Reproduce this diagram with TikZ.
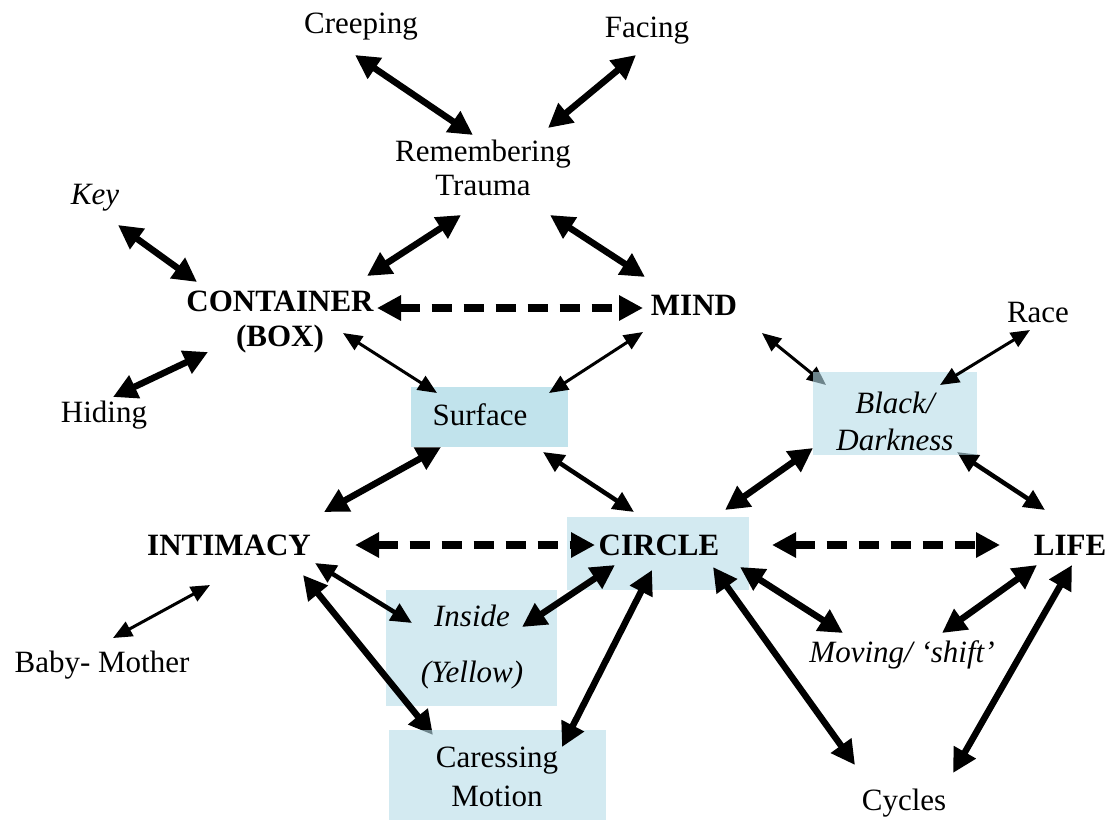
\documentclass[tikz,border=0pt]{standalone}
\usepackage{fontspec}
\setmainfont{Liberation Serif}
\usetikzlibrary{arrows.meta,calc}
\pgfdeclarelayer{under}
\pgfdeclarelayer{mid}
\pgfdeclarelayer{toppanel}
\pgfdeclarelayer{over}
\pgfsetlayers{under,main,mid,toppanel,over}
\definecolor{boxblue}{RGB}{182,220,232}
\definecolor{surfblue}{RGB}{152,208,223}
\begin{document}
\begin{tikzpicture}[x=1pt,y=-1pt,
  lbl/.style={font=\fontsize{31}{35}\selectfont, inner sep=0pt, align=center},
  bld/.style={lbl, font=\fontsize{31}{35}\selectfont\bfseries},
  itl/.style={lbl, font=\fontsize{31}{35}\selectfont\itshape},
  panel/.style={fill=boxblue, fill opacity=0.6, draw=none, inner sep=0pt},
  bigarr/.style={line width=6.5pt, {Triangle[length=24pt,width=24pt]}-{Triangle[length=24pt,width=24pt]}},
  midarr/.style={line width=4.5pt, {Triangle[length=21pt,width=19pt]}-{Triangle[length=21pt,width=19pt]}},
  smallarr/.style={line width=3pt, {Triangle[length=19pt,width=16pt]}-{Triangle[length=19pt,width=16pt]}},
  dasharr/.style={line width=7.5pt, dash pattern=on 20pt off 12pt, {Triangle[length=24pt,width=24pt]}-{Triangle[length=24pt,width=24pt]}}
]
\useasboundingbox (0,0) rectangle (1113,823);

% shaded panels
\node[panel, fill=surfblue, minimum width=157pt, minimum height=60pt] (surf) at (489.5,417) {};
\node[panel, minimum width=164pt, minimum height=83pt] (dark) at (895,413.5) {};
\node[panel, minimum width=182pt, minimum height=73pt] (circ) at (658,553.5) {};
\node[panel, minimum width=171pt, minimum height=116pt] (ins) at (471.5,648) {};
\begin{pgfonlayer}{toppanel}
\node[panel, minimum width=217pt, minimum height=90pt] (car) at (497.5,775) {};
\end{pgfonlayer}

% labels
\node[lbl] (crp) at (361,27) {Creeping};
\node[lbl] (fac) at (647,31) {Facing};
\node[lbl, font=\fontsize{31}{34}\selectfont] (rem) at (483,168) {Remembering\\Trauma};
\node[itl] (key) at (95,198) {Key};
\node[bld] (box) at (280,322) {CONTAINER\\(BOX)};
\node[bld] (mind) at (694,305) {MIND};
\node[lbl] (race) at (1038,312) {Race};
\node[lbl] (hid) at (104,415) {Hiding};
\node[lbl] (surftxt) at (480,415) {Surface};
\node[itl, font=\fontsize{31}{37}\selectfont\itshape] (darktxt) at (895,421) {Black/\\Darkness};
\node[bld] (int) at (229,545) {INTIMACY};
\node[bld] (circtxt) at (659,545) {CIRCLE};
\node[bld] (life) at (1070,545) {LIFE};
\node[itl] (instxt) at (472,647) {Inside\\[21pt](Yellow)};
\begin{pgfonlayer}{over}
\node[lbl, font=\fontsize{31}{39}\selectfont] (cartxt) at (497,777) {Caressing\\Motion};
\end{pgfonlayer}
\node[itl] (mov) at (902,655) {Moving/ ‘shift’};
\node[lbl] (cyc) at (904,803) {Cycles};
\node[lbl] (baby) at (102,665) {Baby- Mother};

% connectors whose heads sit under the panels
\begin{pgfonlayer}{under}
\draw[smallarr] ($(mind)+(68,28)$) -- ($(dark)+(-69,-28.5)$);
\draw[bigarr] ($(dark)+(-82,34.5)$) -- ($(circ)+(67,-43.5)$);
\draw[midarr] ($(dark)+(62,38.5)$) -- ($(life)+(-25,-35)$);
\end{pgfonlayer}
\begin{pgfonlayer}{mid}
\draw[bigarr] ($(int)+(74,30)$) -- ($(car)+(-64.5,-40)$);
\end{pgfonlayer}

% remaining connectors
\begin{pgfonlayer}{over}
\draw[bigarr] ($(crp)+(-6,28)$) -- ($(rem)+(-10,-33)$);
\draw[bigarr] ($(fac)+(-11,24)$) -- ($(rem)+(65,-40)$);
\draw[bigarr] ($(rem)+(-22,47)$) -- ($(box)+(87,-46)$);
\draw[bigarr] ($(rem)+(67,47)$) -- ($(mind)+(-49,-28)$);
\draw[bigarr] ($(key)+(23,27)$) -- ($(box)+(-83,-40)$);
\draw[bigarr] ($(hid)+(9,-18)$) -- ($(box)+(-72,30)$);
\draw[dasharr] ($(box)+(97,-14)$) -- ($(mind)+(-51,3)$);
\draw[smallarr] ($(box)+(63,11)$) -- ($(surf)+(-52.5,-24)$);
\draw[smallarr] ($(mind)+(-51,27)$) -- ($(surf)+(59.5,-24)$);
\draw[smallarr] ($(race)+(-8,18)$) -- ($(dark)+(45,-28.5)$);
\draw[bigarr] ($(surf)+(-48.5,30)$) -- ($(int)+(95,-33)$);
\draw[midarr] ($(surf)+(53.5,35)$) -- ($(circ)+(-24,-41.5)$);
\draw[dasharr] ($(int)+(126,0)$) -- ($(circ)+(-63,-8.5)$);
\draw[dasharr] ($(circ)+(114,-8.5)$) -- ($(life)+(-70,0)$);
\draw[midarr] ($(int)+(86,18)$) -- ($(ins)+(-59.5,-25)$);
\draw[smallarr] ($(baby)+(11,-27)$) -- ($(int)+(-19,40)$);
\draw[bigarr] ($(circ)+(-43,11.5)$) -- ($(ins)+(50.5,-21)$);
\draw[bigarr] ($(circ)+(-6,16.5)$) -- ($(car)+(64.5,-28)$);
\draw[bigarr] ($(circ)+(82,13.5)$) -- ($(mov)+(-59,-22)$);
\draw[bigarr] ($(circ)+(55,13.5)$) -- ($(cyc)+(-49,-38)$);
\draw[bigarr] ($(life)+(-33,20)$) -- ($(mov)+(40,-22)$);
\draw[bigarr] ($(life)+(2,20)$) -- ($(cyc)+(49,-30)$);
\end{pgfonlayer}
\end{tikzpicture}
\end{document}
